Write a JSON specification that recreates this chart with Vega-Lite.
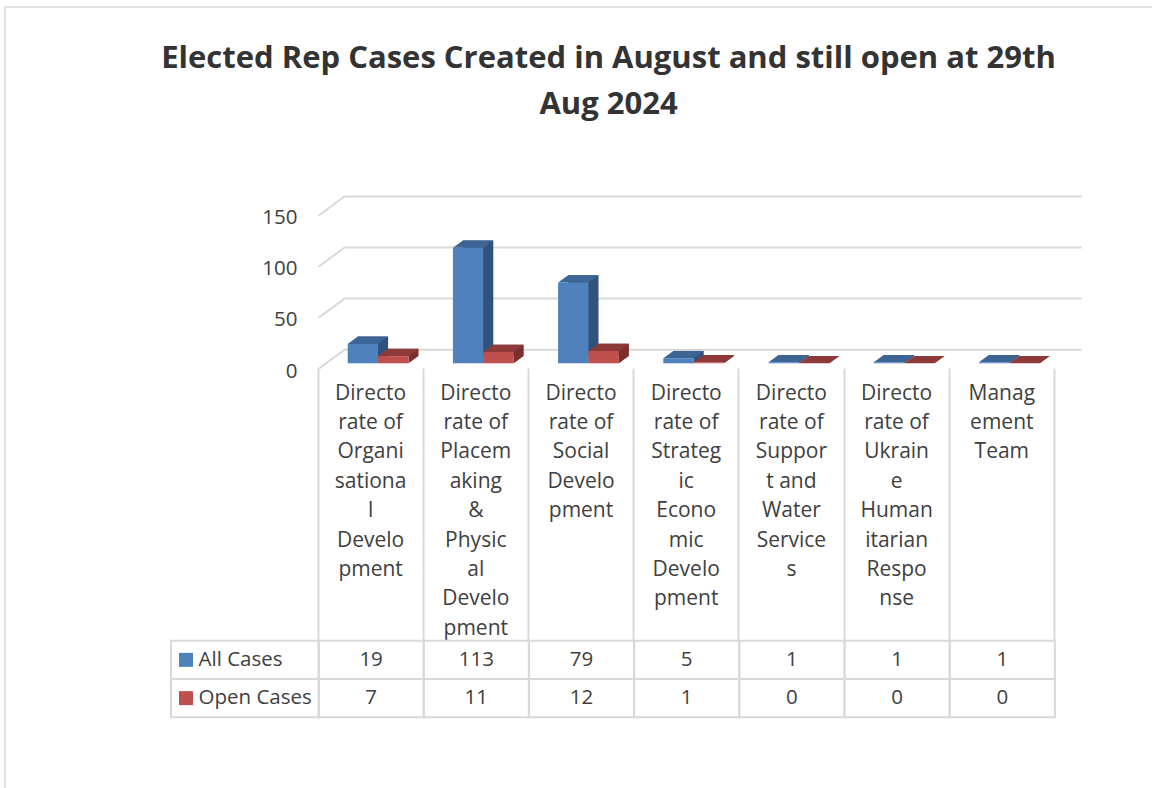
{
"$schema":"https://vega.github.io/schema/vega-lite/v6.json",
"width":1150,"height":785,
"autosize":{"type":"none"},
"padding":{"left":5,"top":7,"right":0,"bottom":0},
"background":"white",
"config":{"view":{"stroke":"#d9d9d9","strokeWidth":1.5}},
"title":{"text":["Elected Rep Cases Created in August and still open at 29th","Aug 2024"],"font":"Open Sans","fontSize":31,"fontWeight":"bold","color":"#333333","anchor":"middle","dx":28.5,"dy":114,"lineHeight":46,"offset":0},
"data":{"values":[
{"category":"Directorate of Organisational Development","series":"All Cases","value":19},
{"category":"Directorate of Placemaking & Physical Development","series":"All Cases","value":113},
{"category":"Directorate of Social Development","series":"All Cases","value":79},
{"category":"Directorate of Strategic Economic Development","series":"All Cases","value":5},
{"category":"Directorate of Support and Water Services","series":"All Cases","value":1},
{"category":"Directorate of Ukraine Humanitarian Response","series":"All Cases","value":1},
{"category":"Management Team","series":"All Cases","value":1},
{"category":"Directorate of Organisational Development","series":"Open Cases","value":7},
{"category":"Directorate of Placemaking & Physical Development","series":"Open Cases","value":11},
{"category":"Directorate of Social Development","series":"Open Cases","value":12},
{"category":"Directorate of Strategic Economic Development","series":"Open Cases","value":1},
{"category":"Directorate of Support and Water Services","series":"Open Cases","value":0},
{"category":"Directorate of Ukraine Humanitarian Response","series":"Open Cases","value":0},
{"category":"Management Team","series":"Open Cases","value":0}
]},
"encoding":{"x":{"field":"category","type":"nominal","sort":null,
 "scale":{"domain":["Directorate of Organisational Development","Directorate of Placemaking & Physical Development","Directorate of Social Development","Directorate of Strategic Economic Development","Directorate of Support and Water Services","Directorate of Ukraine Humanitarian Response","Management Team"],"range":[313.5,1049.9],"paddingInner":0,"paddingOuter":0},
 "axis":{"title":null,"orient":"bottom","offset":-423,"translate":-0.5,"domain":false,"tickBand":"extent","tickSize":272,"tickColor":"#d9d9d9","tickWidth":2,"labelPadding":-262,"labelAngle":0,"labelAlign":"center","labelBaseline":"line-top","labelLineHeight":29.4,"labelFont":"Open Sans","labelFontSize":21,"labelColor":"#404040","labelLimit":0,"labelOverlap":false,"labelBound":false,"labelFlush":false,
 "labelExpr":"{'Directorate of Organisational Development':['Directo','rate of','Organi','sationa','l','Develo','pment'],'Directorate of Placemaking & Physical Development':['Directo','rate of','Placem','aking','&','Physic','al','Develo','pment'],'Directorate of Social Development':['Directo','rate of','Social','Develo','pment'],'Directorate of Strategic Economic Development':['Directo','rate of','Strateg','ic','Econo','mic','Develo','pment'],'Directorate of Support and Water Services':['Directo','rate of','Suppor','t and','Water','Service','s'],'Directorate of Ukraine Humanitarian Response':['Directo','rate of','Ukrain','e','Human','itarian','Respo','nse'],'Management Team':['Manag','ement','Team']}[datum.label]"}}},
"resolve":{"scale":{"y":"independent"}},
"layer":[
{"encoding":{"y":{"field":"value","type":"quantitative","scale":{"domain":[0,150],"range":[362,208.7],"nice":false},
  "axis":{"title":null,"orient":"left","offset":-292,"values":[0,50,100,150],"grid":false,"domain":false,"ticks":false,"tickSize":0,"labelPadding":0,"labelOffset":2,"labelFont":"Open Sans","labelFontSize":20.5,"labelColor":"#404040"}}},
 "layer":[
 {"data":{"values":[{"category":"Directorate of Organisational Development","gridValue":0},{"category":"Directorate of Organisational Development","gridValue":50},{"category":"Directorate of Organisational Development","gridValue":100},{"category":"Directorate of Organisational Development","gridValue":150}]},
  "mark":{"type":"point","shape":"M-52.6,0 L-26.6,-19.3 L710.6,-19.3","size":4,"filled":false,"stroke":"#d9d9d9","strokeWidth":2,"opacity":1},
  "encoding":{"y":{"field":"gridValue","type":"quantitative"}}},
 {"transform":[{"filter":"datum.series==='All Cases'"}],"layer":[
  {"mark":{"type":"bar","color":"#31527b","width":30.4,"xOffset":1.8,"yOffset":-13,"y2Offset":-13}},
  {"mark":{"type":"point","shape":"M15.2,0 L25.2,-7.3 L15.2,-7.3 Z","size":4,"filled":true,"color":"#31527b","opacity":1,"xOffset":-8.2,"yOffset":-5.7},"encoding":{"y":{"datum":0}}},
  {"mark":{"type":"point","shape":"M-15.2,0 L15.2,0 L25.2,-7.3 L-5.2,-7.3 Z","size":4,"filled":true,"color":"#3c6494","opacity":1,"xOffset":-8.2,"yOffset":-5.7}},
  {"mark":{"type":"bar","color":"#4f81bd","width":30.4,"xOffset":-8.2,"yOffset":-5.7,"y2Offset":-5.7}}
 ]},
 {"transform":[{"filter":"datum.series==='Open Cases'"}],"layer":[
  {"mark":{"type":"bar","color":"#7b2f2d","width":30.4,"xOffset":32.2,"yOffset":-13,"y2Offset":-13}},
  {"mark":{"type":"point","shape":"M15.2,0 L25.2,-7.3 L15.2,-7.3 Z","size":4,"filled":true,"color":"#7b2f2d","opacity":1,"xOffset":22.2,"yOffset":-5.7},"encoding":{"y":{"datum":0}}},
  {"mark":{"type":"point","shape":"M-15.2,0 L15.2,0 L25.2,-7.3 L-5.2,-7.3 Z","size":4,"filled":true,"color":"#8e3a38","opacity":1,"xOffset":22.2,"yOffset":-5.7}},
  {"mark":{"type":"bar","color":"#c0504d","width":30.4,"xOffset":22.2,"yOffset":-5.7,"y2Offset":-5.7}}
 ]}
 ]},
{"encoding":{"y":{"field":"series","type":"nominal","sort":null,"scale":{"domain":["All Cases","Open Cases"],"range":[633.7,710.3],"paddingInner":0,"paddingOuter":0},
  "axis":{"title":null,"orient":"left","offset":-193,"domain":false,"ticks":false,"tickSize":0,"labelPadding":0,"labelAlign":"left","labelFont":"Open Sans","labelFontSize":20.5,"labelColor":"#404040"}}},
 "layer":[
 {"mark":{"type":"bar","fill":"transparent","stroke":"#d9d9d9","strokeWidth":2}},
 {"transform":[{"filter":"datum.category==='Directorate of Organisational Development'"}],"mark":{"type":"bar","fill":"transparent","stroke":"#d9d9d9","strokeWidth":2,"width":148,"xOffset":-126.1}},
 {"transform":[{"filter":"datum.category==='Directorate of Organisational Development'"}],"mark":{"type":"point","shape":"square","filled":true,"size":196,"opacity":1,"xOffset":-185.1},
  "encoding":{"color":{"field":"series","type":"nominal","scale":{"domain":["All Cases","Open Cases"],"range":["#4f81bd","#c0504d"]},"legend":null}}},
 {"mark":{"type":"text","font":"Open Sans","fontSize":20.5,"color":"#404040"},"encoding":{"text":{"field":"value","type":"quantitative"}}}
 ]}
]
}
